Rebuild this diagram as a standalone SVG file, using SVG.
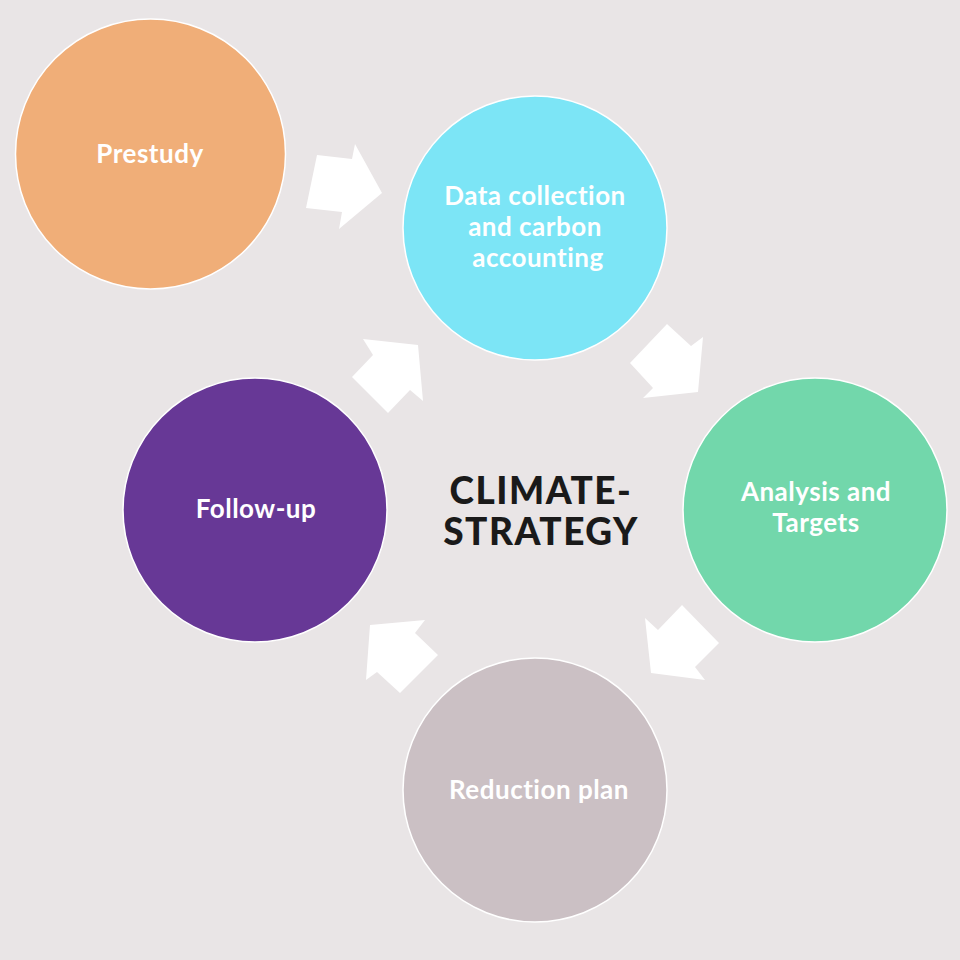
<svg xmlns="http://www.w3.org/2000/svg" width="960" height="960" viewBox="0 0 960 960">
<style>
.node{stroke:#ffffff;stroke-width:1.5}
.lbl{font-family:Lato,"Open Sans","Liberation Sans",sans-serif;font-weight:700;font-size:26px;letter-spacing:0.5px;font-variant-ligatures:none;fill:#ffffff;text-anchor:middle;dominant-baseline:central}
.title{font-family:Lato,"Open Sans","Liberation Sans",sans-serif;font-weight:900;font-size:37px;letter-spacing:1.5px;fill:#1a1a1a;text-anchor:middle;dominant-baseline:central}
.arrow{fill:#ffffff}
</style>
<rect width="960" height="960" fill="#e9e5e6"/>
<g id="connectors">
<polygon class="arrow" points="317,155 352,159 355,144 382,193 339,229 342,212 306,208"/>
<polygon class="arrow" points="667,324 691,346 703,337 698,392 643,398 653,388 630,363"/>
<polygon class="arrow" points="682,605 719,643 695,667 705,680 651,673 645,618 658,630"/>
<polygon class="arrow" points="425,620 415,633 438,655 400,693 377,672 366,680 370,625"/>
<polygon class="arrow" points="363,339 418,345 423,401 410,390 388,413 352,377 373,355"/>
</g>
<g id="prestudy">
<circle class="node" cx="150.5" cy="154" r="135" fill="#f0ae78"/>
<text class="lbl" x="150" y="153">Prestudy</text>
</g>
<g id="data">
<circle class="node" cx="535" cy="228" r="132" fill="#7ce5f6"/>
<text class="lbl" x="535" y="195">Data collection</text>
<text class="lbl" x="535" y="226">and carbon</text>
<text class="lbl" x="538" y="257">accounting</text>
</g>
<g id="analysis">
<circle class="node" cx="815" cy="510" r="132" fill="#72d7ab"/>
<text class="lbl" x="816" y="491">Analysis and</text>
<text class="lbl" x="816" y="522">Targets</text>
</g>
<g id="reduction">
<circle class="node" cx="535" cy="790" r="132" fill="#cbc0c4"/>
<text class="lbl" x="539" y="789">Reduction plan</text>
</g>
<g id="followup">
<circle class="node" cx="255" cy="510" r="132" fill="#673896"/>
<text class="lbl" x="256" y="508">Follow-up</text>
</g>
<g id="center">
<text class="title" x="541" y="489">CLIMATE-</text>
<text class="title" x="541" y="530">STRATEGY</text>
</g>
</svg>
